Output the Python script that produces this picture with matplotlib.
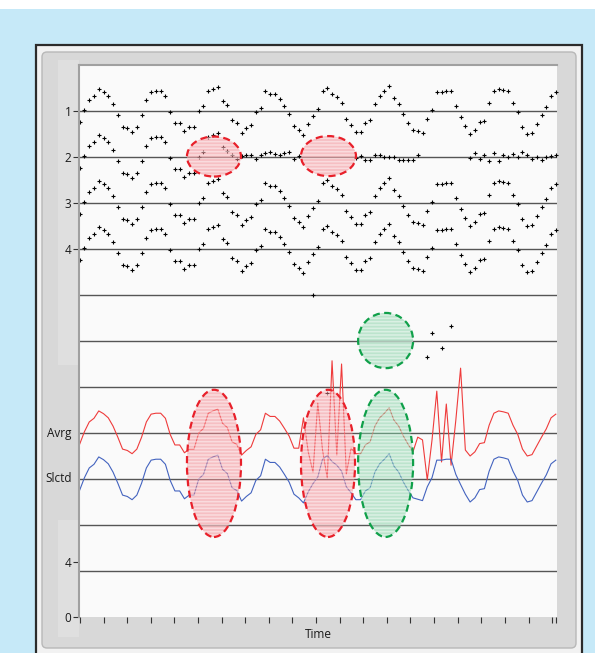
import numpy as np
import matplotlib
matplotlib.use('Agg')
import matplotlib.pyplot as plt
from matplotlib.colors import to_rgba
from matplotlib.patches import Ellipse, Rectangle, FancyBboxPatch

plt.rcParams['font.family'] = ['Open Sans', 'DejaVu Sans']
plt.rcParams['hatch.linewidth'] = 1.1

# one sample every 0.2 time units, 101 samples
wave = np.array([
    -0.24, 0.03, 0.24, 0.32, 0.48, 0.42, 0.33, 0.15, -0.09, -0.35,
    -0.38, -0.45, -0.35, -0.09, 0.24, 0.41, 0.43, 0.43, 0.32, -0.03,
    -0.26, -0.26, -0.43, -0.35, -0.35, 0.00, 0.10, 0.43, 0.48, 0.52,
    0.21, 0.12, -0.19, -0.25, -0.48, -0.38, -0.30, -0.03, 0.07, 0.43,
    0.36, 0.36, 0.26, 0.10, -0.07, -0.33, -0.41, -0.52, -0.28, -0.10,
    0.04, 0.43, 0.51, 0.38, 0.30, 0.17, -0.17, -0.30, -0.45, -0.45,
    -0.26, -0.19, 0.15, 0.33, 0.43, 0.55, 0.28, 0.15, -0.07, -0.25,
    -0.41, -0.44, -0.47, -0.17, 0.03, 0.41, 0.41, 0.43, 0.43, 0.10,
    -0.12, -0.33, -0.50, -0.41, -0.23, -0.21, 0.17, 0.43, 0.48, 0.46,
    0.43, 0.17, -0.03, -0.35, -0.50, -0.47, -0.28, -0.09, 0.09, 0.33,
    0.41])

nan = np.nan
# channel 2 goes flat from sample 32 on, with a few stray samples
row2_tail = [
    0.04, -0.04, 0.02, 0.05, 0.05, -0.04, 0.05, 0.09, 0.11, 0.07,
    0.05, 0.09, 0.11, -0.04, 0.02, nan, nan, -3.00, nan, nan,
    -5.13, nan, nan, nan, nan, nan, -0.02, 0.02, -0.07, -0.07,
    0.04, 0.04, 0.00, 0.00, 0.00, -0.07, -0.07, -0.07, -0.07, 0.05,
    nan, -4.35, -3.83, nan, -4.15, nan, -3.67, nan, nan, nan,
    -0.02, 0.09, -0.04, 0.04, -0.09, 0.09, -0.09, 0.05, 0.00, 0.07,
    0.00, 0.11, 0.04, -0.04, 0.00, -0.07, 0.00, 0.02, 0.05]

# spikes on the average trace
spikes_a = [-0.33, 0.33, -0.41, -0.85, 0.65, -0.37, -0.98, 1.57, -0.48, 1.50, -0.89, -0.33]
spikes_b = [-0.09, -0.15, -1.02, -0.15, 0.91, -0.63, 0.63, -0.70, 0.28, 1.41, -0.37]

row_lanes = [11, 10, 9, 8]
ytick_pos = [0, 1.2, 8, 9, 10, 11]
ytick_txt = ['0', '4', '4', '3', '2', '1']

# highlighted regions: (x, y, width, height, kind)
highlights = [
    (5.64, 10.01, 2.27, 0.87, 'red'),
    (10.45, 10.02, 2.31, 0.87, 'red'),
    (12.85, 6.01, 2.31, 1.20, 'green'),
    (5.64, 3.34, 2.27, 3.20, 'red'),
    (10.43, 3.34, 2.27, 3.20, 'red'),
    (12.85, 3.34, 2.31, 3.20, 'green'),
]

W, H = 595, 653
fig = plt.figure(figsize=(W / 100, H / 100), dpi=100, facecolor='#c6e9f8')


def box(x0, y0, x1, y1, **kw):
    # pixel coordinates measured from the top-left corner
    return Rectangle((x0 / 100, (H - y1) / 100), (x1 - x0) / 100, (y1 - y0) / 100,
                     transform=fig.dpi_scale_trans, **kw)


fig.add_artist(box(0, 0, W, 9, facecolor='white', lw=0, zorder=-6))
fig.add_artist(box(36, 45, 582, 700, facecolor='#f2f2f2', edgecolor='#2b2b2b', lw=1.6, zorder=-6))
fig.add_artist(FancyBboxPatch((42 / 100, (H - 648) / 100), 534 / 100, 596 / 100,
                              boxstyle='round,pad=0,rounding_size=0.05',
                              transform=fig.dpi_scale_trans, facecolor='#d8d8d8',
                              edgecolor='#b8b8b8', lw=1.0, zorder=-5))
fig.add_artist(box(58, 60, 79, 365, facecolor='#dfdfdf', lw=0, zorder=-4))
fig.add_artist(box(58, 520, 79, 637, facecolor='#dfdfdf', lw=0, zorder=-4))

ax = fig.add_axes([79 / W, 1 - 617 / H, (557 - 79) / W, (617 - 65) / H], facecolor='#fafafa')
ax.set_xlim(-0.03, 20.05)
ax.set_ylim(0, 12)

for lane in range(1, 12):
    ax.axhline(lane, color='#555555', lw=1.0, zorder=1)

x = 0.2 * np.arange(len(wave))
row2 = np.concatenate([wave[:32], row2_tail])
avrg = wave.copy()
avrg[46:58] = spikes_a
avrg[71:82] = spikes_b

for i, lane in enumerate(row_lanes):
    vals = row2 if i == 1 else wave
    ax.plot(x, lane + vals, '+', ms=2.7, mew=0.8, color='black', zorder=2, clip_on=False)

ax.plot(x, 4 + avrg, color='#ef3b3b', lw=0.8, zorder=2)
ax.plot(x, 3 + wave, color='#4363bf', lw=0.8, zorder=2)

colors = {'red': ('#f3868d', '#e8202a'),
          'green': ('#7fcfa2', '#10a04a')}
for xc, yc, w, h, kind in highlights:
    face, edge = colors[kind]
    ax.add_patch(Ellipse((xc, yc), w, h, facecolor=to_rgba(face, 0.5),
                         edgecolor=(1, 1, 1, 0.45), lw=0, hatch='-----', zorder=3))
    ax.add_patch(Ellipse((xc, yc), w, h, fill=False, edgecolor=edge, lw=1.6,
                         ls=(0, (3.2, 2)), zorder=4))

for side in ['bottom', 'right']:
    ax.spines[side].set_visible(False)
for side in ['top', 'left']:
    ax.spines[side].set_color('#a0a0a0')
    ax.spines[side].set_linewidth(1.5)

ax.set_xticks(np.append(0.0126 + 0.9916 * np.arange(21), 20.0))
ax.tick_params(axis='x', direction='out', length=4, width=0.8, color='#333333', labelbottom=False)
ax.set_xlabel('Time', fontsize=8.5, color='#1a1a1a', labelpad=4)

ax.set_yticks(ytick_pos)
ax.set_yticklabels(ytick_txt)
ax.tick_params(axis='y', direction='out', length=4, width=0.8, color='#333333', pad=1.5,
               labelsize=8.5, labelcolor='#1a1a1a')
ax.text(-0.015, 4, 'Avrg', transform=ax.get_yaxis_transform(), ha='right', va='center',
        fontsize=8.5, color='#1a1a1a')
ax.text(-0.015, 3, 'Slctd', transform=ax.get_yaxis_transform(), ha='right', va='center',
        fontsize=8.5, color='#1a1a1a')

fig.savefig('out.png', dpi=100, facecolor=fig.get_facecolor())
